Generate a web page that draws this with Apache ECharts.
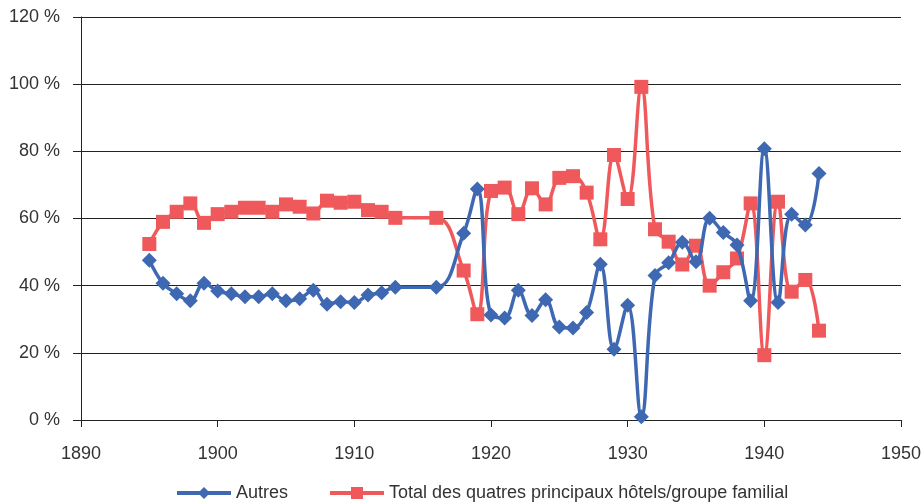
<!DOCTYPE html>
<html>
<head>
<meta charset="utf-8">
<script src="https://cdn.jsdelivr.net/npm/echarts@6/dist/echarts.min.js"></script>
<style>
  html, body { margin: 0; padding: 0; background: #fff; }
  #container { width: 924px; height: 502px; }
</style>
</head>
<body>
<div id="container"></div>
<script>
// années
var years = [1895, 1896, 1897, 1898, 1899, 1900, 1901, 1902, 1903, 1904,
  1905, 1906, 1907, 1908, 1909, 1910, 1911, 1912, 1913, 1916,
  1918, 1919, 1920, 1921, 1922, 1923, 1924, 1925, 1926, 1927,
  1928, 1929, 1930, 1931, 1932, 1933, 1934, 1935, 1936, 1937,
  1938, 1939, 1940, 1941, 1942, 1943, 1944];
// Autres (%)
var autres = [47.6, 40.7, 37.6, 35.5, 40.7, 38.4, 37.6, 36.7, 36.7, 37.6,
  35.5, 36.1, 38.6, 34.5, 35.2, 35.0, 37.2, 37.9, 39.5, 39.5,
  55.6, 68.8, 31.3, 30.4, 38.6, 31.1, 35.8, 27.7, 27.4, 32.0,
  46.4, 21.1, 34.2, 1.0, 43.0, 46.8, 52.9, 47.1, 60.1, 55.8,
  52.1, 35.5, 80.8, 35.0, 61.3, 58.1, 73.4];
// Total des quatres principaux hôtels/groupe familial (%)
var total = [52.4, 59.0, 62.0, 64.5, 58.7, 61.3, 62.0, 63.2, 63.2, 62.0,
  64.2, 63.5, 61.5, 65.3, 64.7, 65.0, 62.5, 62.0, 60.2, 60.2,
  44.5, 31.5, 68.2, 69.2, 61.3, 69.0, 64.2, 72.1, 72.6, 67.7,
  53.8, 78.9, 65.8, 99.2, 56.8, 53.1, 46.3, 51.9, 40.0, 44.0,
  48.1, 64.5, 19.3, 65.0, 38.2, 41.7, 26.6];
// graduations
var yTicks = [0, 20, 40, 60, 80, 100, 120];
var xTicks = [1890, 1900, 1910, 1920, 1930, 1940, 1950];

var blue = '#3F68B2';
var red = '#EF595B';
var txt = '#333333';
var font = '"Liberation Sans", Arial, sans-serif';

function pairs(vals) {
  var out = [];
  for (var i = 0; i < years.length; i++) {
    out.push([years[i], vals[i]]);
  }
  return out;
}

var myChart = echarts.init(document.getElementById('container'), null, { renderer: 'canvas' });

var option = {
  animation: false,
  textStyle: { fontFamily: font },
  grid: { left: 81, right: 18, top: 17, bottom: 82, containLabel: false },
  xAxis: {
    type: 'value',
    min: xTicks[0],
    max: xTicks[xTicks.length - 1],
    interval: 10,
    axisLine: { show: true, lineStyle: { color: '#222', width: 1 } },
    axisTick: { show: true, length: 7, inside: false, lineStyle: { color: '#222' } },
    axisLabel: {
      color: txt, fontSize: 18, margin: 25, fontFamily: font,
      formatter: function (v) { return String(v); }
    },
    splitLine: { show: false }
  },
  yAxis: {
    type: 'value',
    min: yTicks[0],
    max: yTicks[yTicks.length - 1],
    interval: 20,
    axisLine: { show: true, lineStyle: { color: '#222', width: 1 } },
    axisTick: { show: true, length: 8, lineStyle: { color: '#222' } },
    axisLabel: {
      color: txt, fontSize: 18, margin: 21, fontFamily: font,
      formatter: function (v) { return v + ' %'; }
    },
    splitLine: { show: true, lineStyle: { color: '#222', width: 1 } }
  },
  legend: {
    top: 479,
    left: 170,
    padding: 5,
    itemWidth: 54,
    itemHeight: 15,
    itemGap: 40,
    lineStyle: { width: 4 },
    textStyle: { color: txt, fontSize: 18, fontFamily: font },
    data: ['Autres', 'Total des quatres principaux hôtels/groupe familial']
  },
  series: [
    {
      name: 'Autres',
      type: 'line',
      smooth: 0.4,
      data: pairs(autres),
      symbol: 'diamond',
      symbolSize: 15,
      lineStyle: { color: blue, width: 3.5 },
      itemStyle: { color: blue },
      z: 3
    },
    {
      name: 'Total des quatres principaux hôtels/groupe familial',
      type: 'line',
      smooth: 0.4,
      data: pairs(total),
      symbol: 'rect',
      symbolSize: 14,
      lineStyle: { color: red, width: 3.5 },
      itemStyle: { color: red },
      z: 2
    }
  ]
};

myChart.setOption(option);
</script>
</body>
</html>
